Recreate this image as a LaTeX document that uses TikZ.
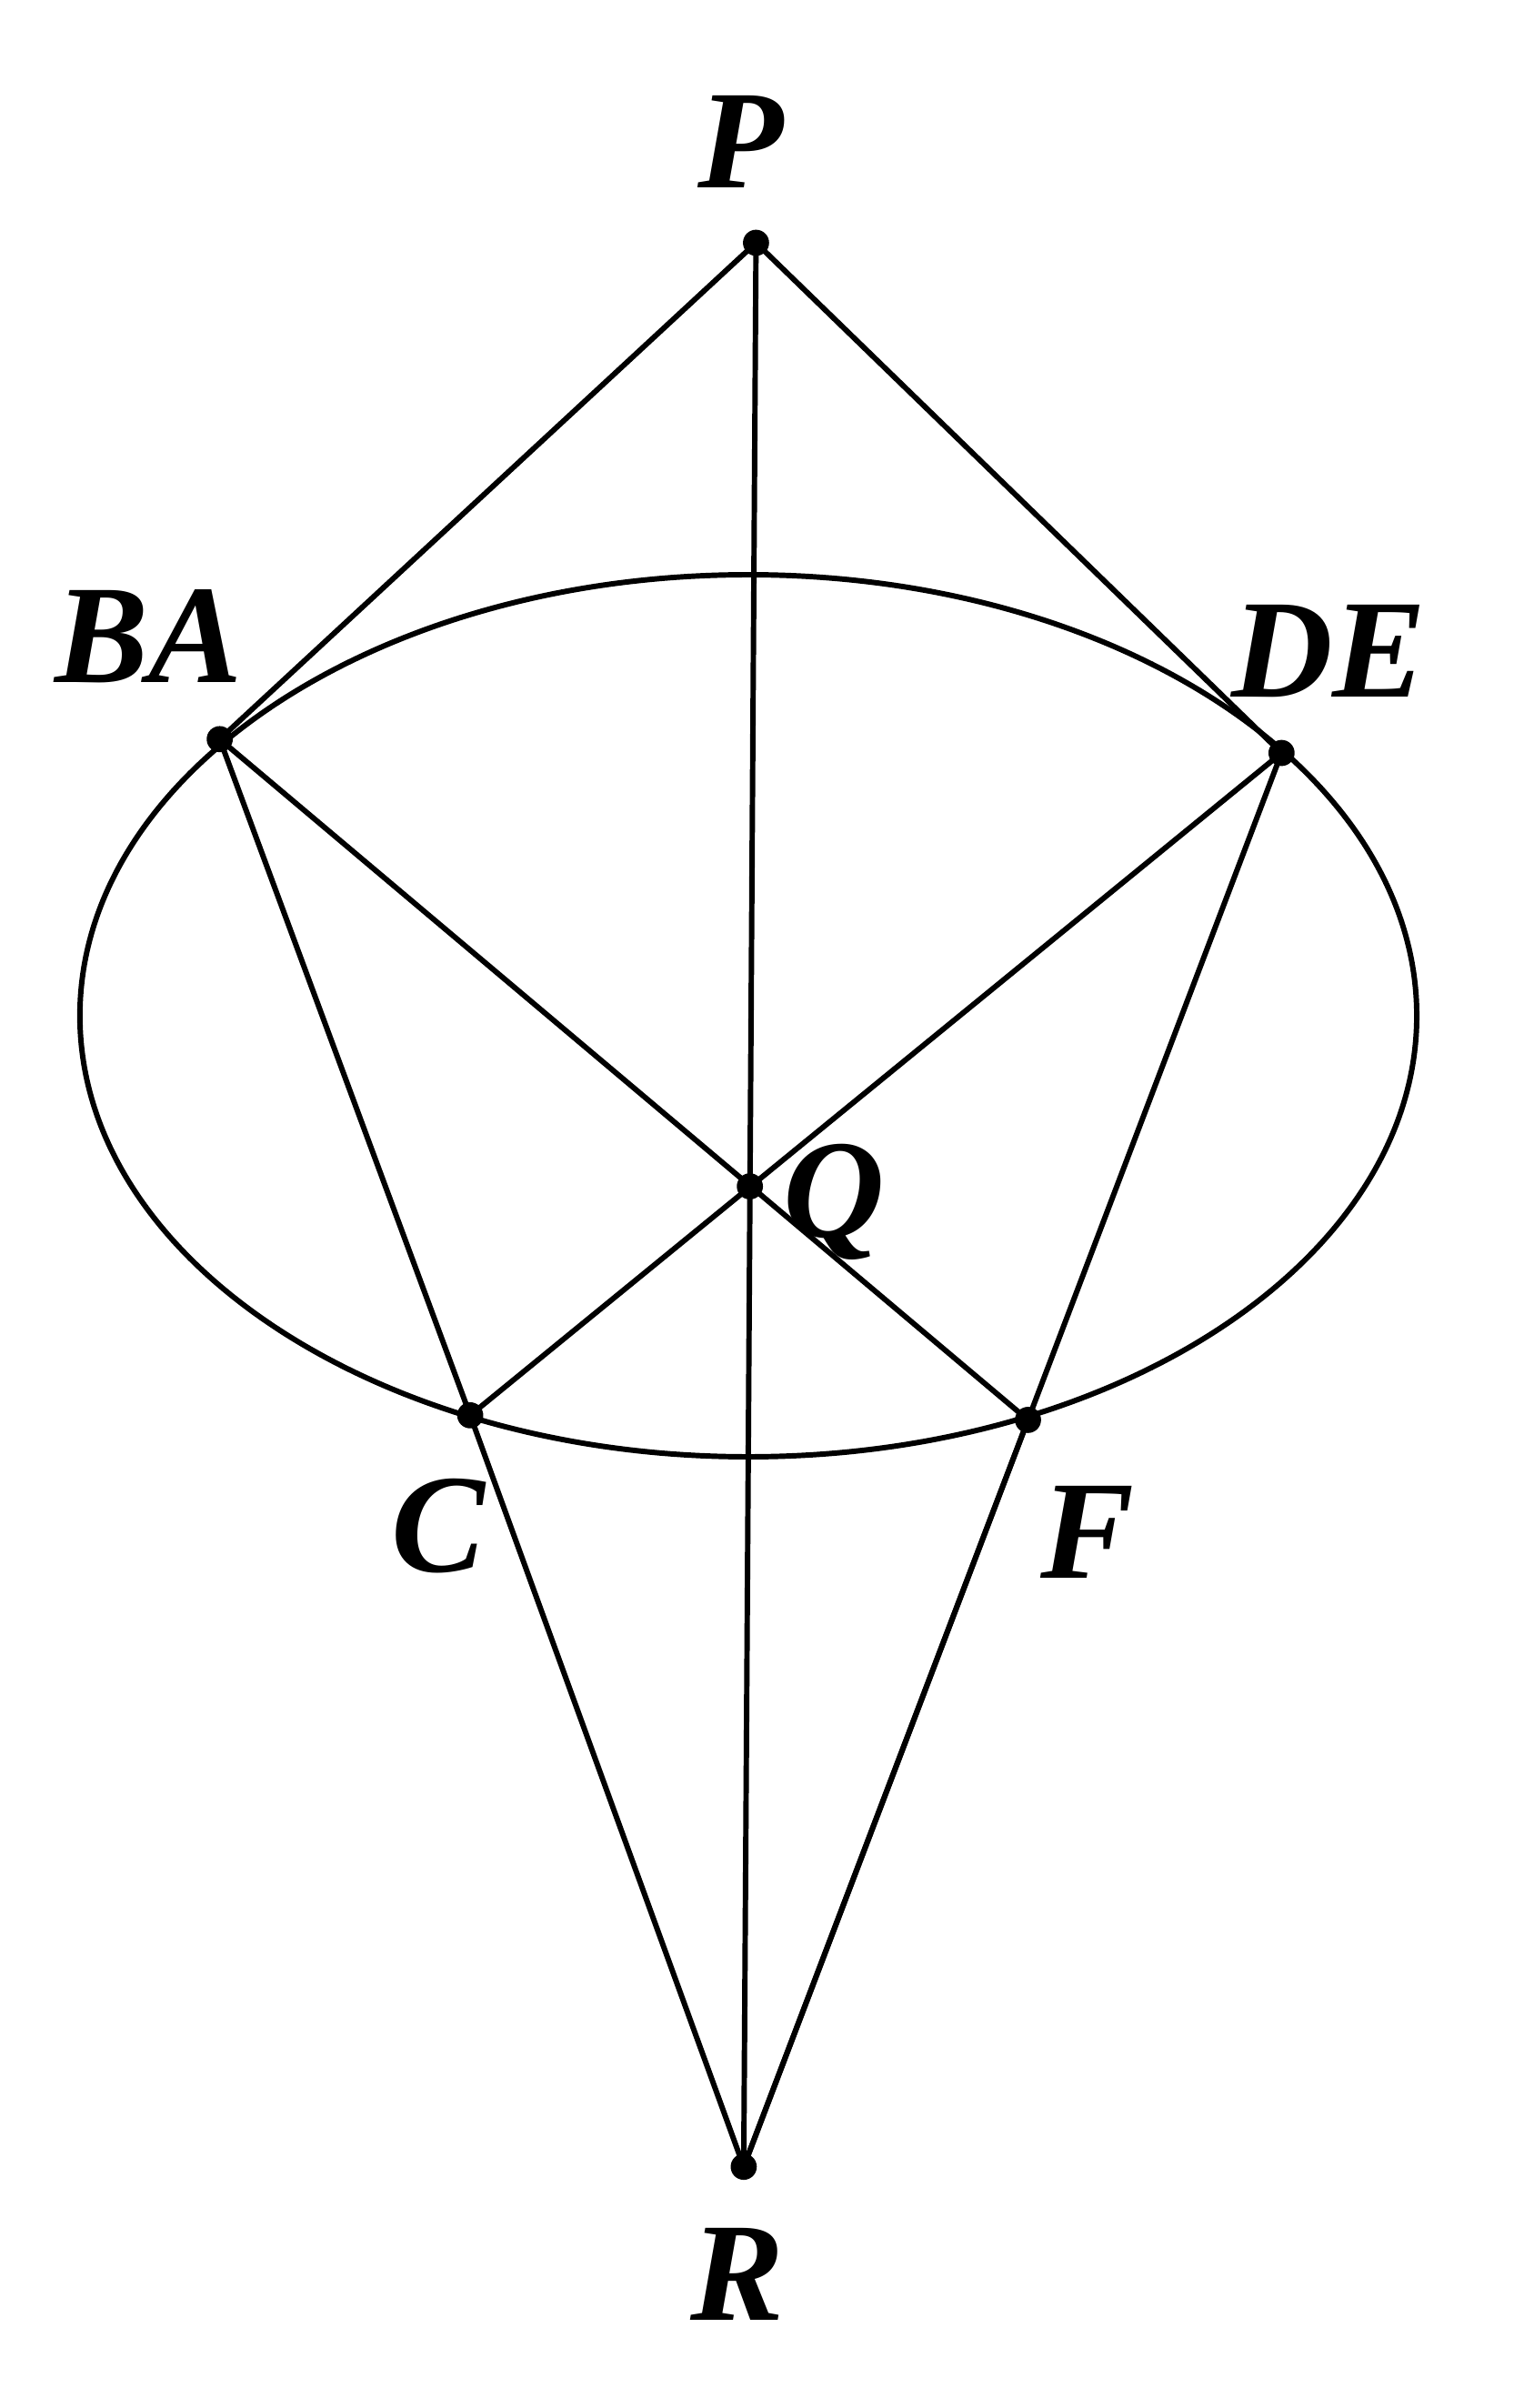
\documentclass[tikz,border=0pt]{standalone}
\usepackage{fontspec}
\setmainfont{Liberation Serif}
\begin{document}
\begin{tikzpicture}[x=0.01cm,y=-0.01cm,line width=1pt,
  lbl/.style={font=\fontsize{26}{30}\selectfont\bfseries\itshape},
  dot/.style={circle,fill=black,inner sep=0pt,minimum size=0.17cm}]
\useasboundingbox (0,0) rectangle (985,1567);
\draw (487,661) ellipse [x radius=435, y radius=287];
\node[dot] (P) at (492,158) {};
\node[dot] (BA) at (143,481) {};
\node[dot] (DE) at (834,490) {};
\node[dot] (Q) at (488,772) {};
\node[dot] (C) at (306,921) {};
\node[dot] (F) at (669,924) {};
\node[dot] (R) at (484,1410) {};
\draw (P.center) -- (BA.center) -- (F.center) -- (R.center) -- (C.center) -- (DE.center) -- (P.center);
\draw (BA.center) -- (C.center);
\draw (DE.center) -- (F.center) -- (R.center);
\draw (P.center) -- (R.center);
\node[lbl] (lP) at (482,92) {P};
\node[lbl] (lBA) at (97,414) {BA};
\node[lbl] (lDE) at (865,424) {DE};
\node[lbl] (lQ) at (543,782) {Q};
\node[lbl] (lC) at (285,993) {C};
\node[lbl] (lF) at (708,997) {F};
\node[lbl] (lR) at (480,1480) {R};
\end{tikzpicture}
\end{document}
